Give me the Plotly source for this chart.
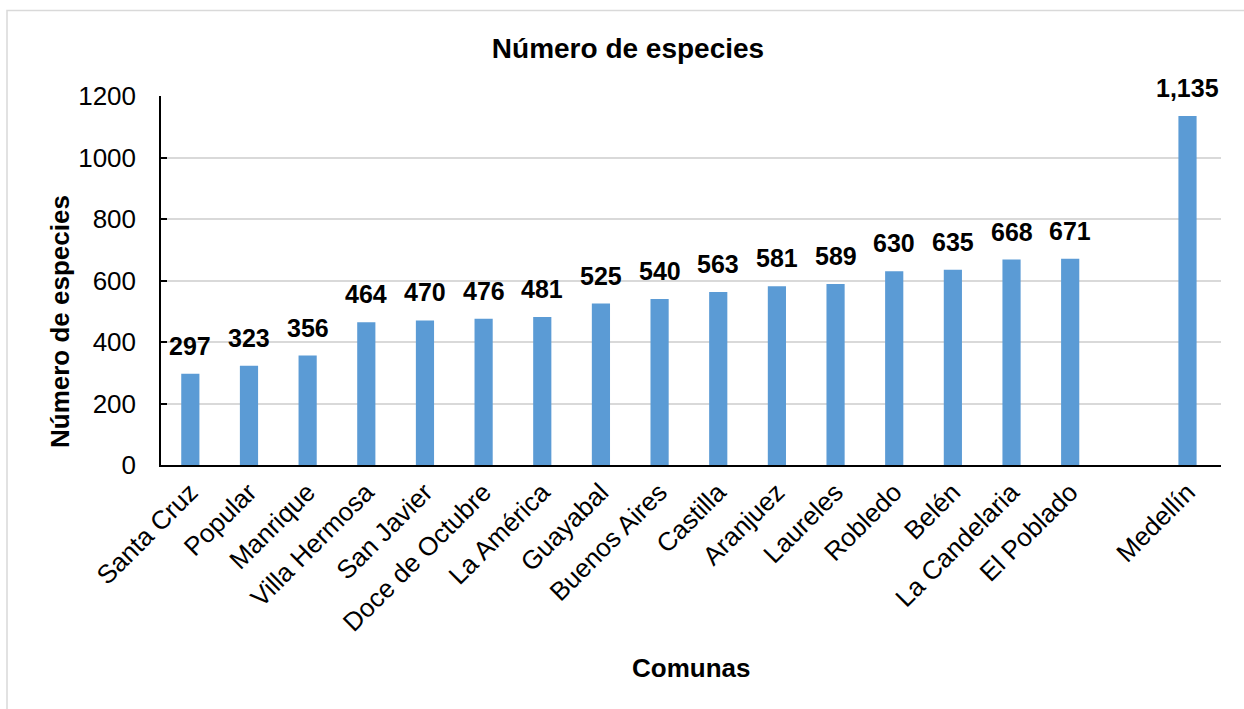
import plotly.graph_objects as go

# Species counts per commune, plus the city total shown apart
comunas = ["Santa Cruz", "Popular", "Manrique", "Villa Hermosa", "San Javier",
           "Doce de Octubre", "La América", "Guayabal", "Buenos Aires", "Castilla",
           "Aranjuez", "Laureles", "Robledo", "Belén", "La Candelaria", "El Poblado",
           " ", "Medellín"]
especies = [297, 323, 356, 464, 470, 476, 481, 525, 540, 563, 581, 589, 630, 635,
            668, 671, None, 1135]
y_ticks = [0, 200, 400, 600, 800, 1000, 1200]

FONT = "Liberation Sans, Arial, sans-serif"
BAR_COLOR = "#5B9BD5"

W, H = 1244, 709
L, R, T, B = 161, 23, 96, 244

fig = go.Figure()
fig.add_trace(go.Bar(
    x=comunas, y=especies, width=0.31,
    marker=dict(color=BAR_COLOR, line=dict(width=0)),
    hoverinfo="x+y",
))

# Value labels above each bar
for c, v in zip(comunas, especies):
    if v is None:
        continue
    fig.add_annotation(
        x=c, y=v, xref="x", yref="y", text=f"{v:,}", showarrow=False,
        yanchor="bottom", yshift=12,
        font=dict(family=FONT, size=25, color="#000", weight="bold"),
    )

pw, ph = W - L - R, H - T - B


def px_x(x):
    return (x - L) / pw


def px_y(y):
    return (H - B - y) / ph


# Axis titles
fig.add_annotation(
    x=px_x(60), y=px_y(322), xref="paper", yref="paper", text="Número de especies",
    showarrow=False, textangle=-90, xanchor="center", yanchor="middle",
    font=dict(family=FONT, size=26, color="#000", weight="bold"),
)
fig.add_annotation(
    x=px_x(691), y=px_y(668), xref="paper", yref="paper", text="Comunas",
    showarrow=False, xanchor="center", yanchor="middle",
    font=dict(family=FONT, size=26, color="#000", weight="bold"),
)

# Chart area frame
fig.add_shape(
    type="rect", xref="paper", yref="paper",
    x0=px_x(7), x1=px_x(1260), y0=px_y(730), y1=px_y(10.5),
    line=dict(color="#d9d9d9", width=1.5), layer="below",
)

fig.update_layout(
    width=W, height=H,
    margin=dict(l=L, r=R, t=T, b=B, autoexpand=False),
    paper_bgcolor="white", plot_bgcolor="white",
    showlegend=False,
    font=dict(family=FONT, color="#000"),
    title=dict(
        text="Número de especies", xref="container", x=628 / W, xanchor="center",
        yref="container", y=1 - 48 / H, yanchor="middle",
        font=dict(family=FONT, size=28, color="#000", weight="bold"),
    ),
    xaxis=dict(
        type="category", categoryorder="array", categoryarray=comunas,
        tickangle=-45, tickfont=dict(family=FONT, size=26, color="#000"),
        showline=True, linecolor="#000", linewidth=1.5,
        ticks="", showgrid=False, automargin=False,
    ),
    yaxis=dict(
        range=[0, 1200], tickvals=y_ticks, ticktext=[str(t) for t in y_ticks],
        tickfont=dict(family=FONT, size=26, color="#000"),
        showline=True, linecolor="#000", linewidth=1.5,
        ticks="inside", ticklen=6, tickwidth=1.5, tickcolor="#000",
        ticklabelstandoff=18,
        showgrid=True, gridcolor="#d9d9d9", gridwidth=1.5,
        zeroline=False, automargin=False,
    ),
)

fig.write_html("out.html")
